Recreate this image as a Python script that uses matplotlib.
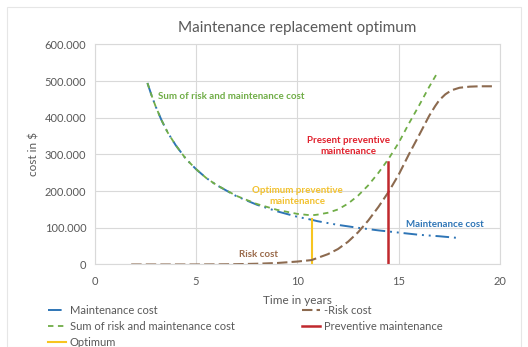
import matplotlib
matplotlib.use('Agg')
import matplotlib.pyplot as plt
from matplotlib.ticker import FuncFormatter, MultipleLocator
from matplotlib.patches import Rectangle

plt.rcParams['font.family'] = ['Lato', 'DejaVu Sans']

# values in thousands of $
maint_x = [2.6, 2.8, 3, 3.3, 3.6, 4, 4.5, 5, 5.5, 6, 7, 8, 9, 10, 10.7, 11, 12, 13, 14, 15,
           16, 17, 18]
maint_y = [495, 462, 432, 393, 360, 325, 288, 260, 236, 217, 186, 163, 145, 130, 122, 118,
           108, 100, 93, 87, 81, 77, 72]

risk_x = [1.8, 3, 4, 5, 6, 7, 8, 9, 10, 10.7, 11, 11.5, 12, 12.5, 13, 13.5, 14, 14.5, 15,
          15.5, 16, 16.5, 16.8, 17, 17.3, 17.6, 18, 18.5, 19, 19.6]
risk_y = [0, 0, 0, 0, 0.3, 0.8, 2, 4, 8, 12, 18, 28, 42, 62, 88, 120, 157, 198, 245,
          300, 352, 405, 432, 448, 464, 475, 482, 485, 486, 486]

sum_x = [2.6, 2.8, 3, 3.3, 3.6, 4, 4.5, 5, 5.5, 6, 7, 8, 9, 10, 10.7, 11, 11.5, 12, 12.5, 13,
         13.5, 14, 14.5, 15, 15.5, 16, 16.5, 16.9]
sum_y = [495, 462, 432, 393, 360, 325, 288, 260, 236, 217, 187, 165, 149, 138, 134, 136, 141,
         150, 166, 188, 216, 250, 288, 332, 384, 433, 484, 522]

prev_x = [14.45, 14.45]
prev_y = [0, 280]
opt_x = [10.7, 10.7]
opt_y = [0, 125]

c_blue = '#2e75b6'
c_brown = '#8c6a4f'
c_green = '#70ad47'
c_red = '#c0282d'
c_yellow = '#f7c520'
c_grid = '#d9d9d9'
c_text = '#595959'

fig = plt.figure(figsize=(5.28, 3.47), dpi=100)
ax = fig.add_axes([0.1794, 0.2378, 0.947 - 0.1794, 0.8718 - 0.2378])

l_maint, = ax.plot(maint_x, maint_y, color=c_blue, lw=1.4,
                   linestyle=(0, (7, 2.5, 1, 2.5, 1, 2.5)), label='Maintenance cost')
l_sum, = ax.plot(sum_x, sum_y, color=c_green, lw=1.3, linestyle=(0, (3, 2.5)),
                 label='Sum of risk and maintenance cost')
l_opt, = ax.plot(opt_x, opt_y, color=c_yellow, lw=1.5, label='Optimum')
l_risk, = ax.plot(risk_x, risk_y, color=c_brown, lw=1.5, linestyle=(0, (5, 2)),
                  label='-Risk cost')
l_prev, = ax.plot(prev_x, prev_y, color=c_red, lw=1.8, label='Preventive maintenance')

ax.set_xlim(0, 20)
ax.set_ylim(0, 600)
ax.xaxis.set_major_locator(MultipleLocator(5))
ax.yaxis.set_major_locator(MultipleLocator(100))
ax.yaxis.set_major_formatter(FuncFormatter(lambda v, p: '0' if v == 0 else '%d.000' % v))
ax.grid(True, color=c_grid, lw=0.8)
ax.set_axisbelow(True)
for s in ax.spines.values():
    s.set_color(c_grid)
    s.set_linewidth(0.8)
ax.tick_params(length=0, labelsize=8, colors=c_text, pad=6)
ax.tick_params(axis='x', pad=8)

ax.set_title('Maintenance replacement optimum', fontsize=11, color=c_text, pad=9)
ax.set_xlabel('Time in years', fontsize=8.5, color=c_text, labelpad=6)
ax.set_ylabel('cost in $', fontsize=8.5, color=c_text, labelpad=4)

# labels on the chart
bold = dict(fontsize=7, fontweight='bold')
ax.text(3.12, 457, 'Sum of risk and maintenance cost', color=c_green, ha='left', va='center', **bold)
ax.text(12.5, 323, 'Present preventive\nmaintenance', color='#e0202c', ha='center', va='center',
        linespacing=1.3, **bold)
ax.text(9.98, 188, 'Optimum preventive\nmaintenance', color='#f2c12e', ha='center', va='center',
        linespacing=1.3, **bold)
ax.text(17.3, 108, 'Maintenance cost', color=c_blue, ha='center', va='center', **bold)
ax.text(8.1, 26, 'Risk cost', color='#9a6a4a', ha='center', va='center', **bold)

leg = fig.legend(handles=[l_maint, l_sum, l_opt, l_risk, l_prev], ncol=2,
                 loc='upper left', bbox_to_anchor=(0.091, 0.12), frameon=False,
                 fontsize=8, handlelength=1.6, handletextpad=0.35, columnspacing=6.1,
                 labelspacing=0.42, borderaxespad=0, borderpad=0)
for t in leg.get_texts():
    t.set_color(c_text)

fig.patches.append(Rectangle((7 / 528, 0), 1 - 14 / 528, 1 - 7 / 347, transform=fig.transFigure,
                             fill=False, edgecolor='#e6e6e6', lw=0.8))

fig.savefig('out.png', dpi=100)
